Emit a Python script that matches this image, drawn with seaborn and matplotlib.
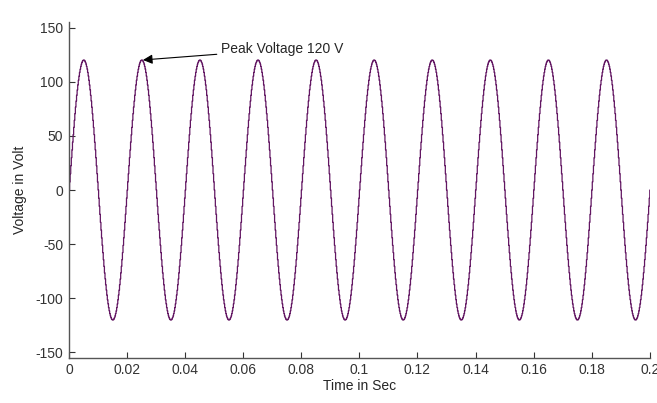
import numpy as np
import pandas as pd
import matplotlib
matplotlib.use("Agg")
import matplotlib.pyplot as plt
import seaborn as sns

# values
peak_voltage = 120.0      # V
frequency = 50.0          # Hz (10 cycles in 0.2 s)
sample_time = 2e-4        # s, staircase sampling
t_end = 0.2
x_ticks = [0, 0.02, 0.04, 0.06, 0.08, 0.1, 0.12, 0.14, 0.16, 0.18, 0.2]
x_tick_labels = ["0", "0.02", "0.04", "0.06", "0.08", "0.1", "0.12", "0.14", "0.16", "0.18", "0.2"]
y_ticks = [-150, -100, -50, 0, 50, 100, 150]
annot_text = "Peak Voltage 120 V"
annot_point = (0.025, 120)
annot_text_pos = (0.0525, 130)

t = np.arange(0, t_end + sample_time / 2, sample_time)
v = peak_voltage * np.sin(2 * np.pi * frequency * t)
df = pd.DataFrame({"Time": t, "Voltage": v})

sns.set_style("white")
plt.rcParams["font.family"] = ["Liberation Sans", "DejaVu Sans"]
plt.rcParams["font.size"] = 10
plt.rcParams["axes.unicode_minus"] = False

fig = plt.figure(figsize=(6.57, 4.03), dpi=100)
ax = fig.add_axes([0.105, 0.112, 0.884, 0.833])

sns.lineplot(data=df, x="Time", y="Voltage", ax=ax, drawstyle="steps-post",
             color="#621662", linewidth=0.9)

ax.set_xlim(0, t_end)
ax.set_ylim(-155, 155)
ax.set_xticks(x_ticks)
ax.set_xticklabels(x_tick_labels)
ax.set_yticks(y_ticks)
ax.set_xlabel("Time in Sec", fontsize=10, labelpad=1)
ax.set_ylabel("Voltage in Volt", fontsize=10, labelpad=6)

for side in ["top", "right"]:
    ax.spines[side].set_visible(False)
for side in ["left", "bottom"]:
    ax.spines[side].set_color("#555555")
    ax.spines[side].set_linewidth(1.0)
ax.tick_params(direction="in", length=4, width=0.8, colors="#333333",
               labelsize=10, left=True, bottom=True, pad=4)

ax.annotate(annot_text, xy=annot_point, xytext=annot_text_pos,
            fontsize=10, va="center", ha="left",
            arrowprops=dict(arrowstyle="-|>", color="black", lw=0.8,
                            mutation_scale=14, shrinkA=1, shrinkB=1))

fig.savefig("out.png", dpi=100)
